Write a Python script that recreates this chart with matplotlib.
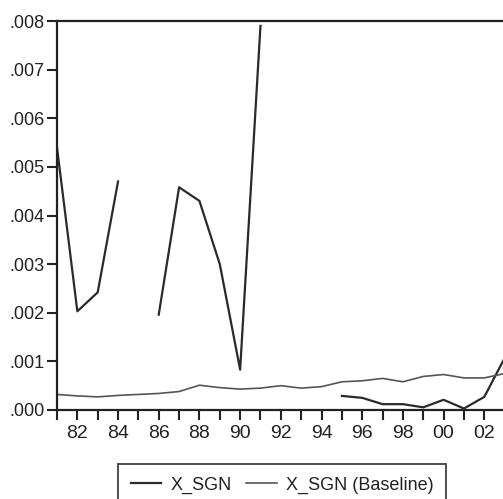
import numpy as np
import matplotlib
matplotlib.use("Agg")
import matplotlib.pyplot as plt
from matplotlib.ticker import FuncFormatter, MultipleLocator

plt.rcParams['font.family'] = ['Liberation Sans', 'DejaVu Sans']

years = np.arange(1981, 2004)
x_sgn = [0.0054, 0.00203, 0.00242, 0.0047, np.nan, 0.00196, 0.00458, 0.0043,
         0.0030, 0.00083, 0.0079, np.nan, np.nan, np.nan, 0.00029, 0.00025,
         0.00012, 0.00012, 0.000055, 0.00021, 0.00003, 0.00027, 0.00107]
x_sgn_base = [0.00032, 0.00029, 0.00027, 0.00030, 0.00032, 0.00034, 0.00038, 0.00051,
              0.00046, 0.00043, 0.00045, 0.00050, 0.00045, 0.00048, 0.00058, 0.00060,
              0.00065, 0.00058, 0.00069, 0.00073, 0.00066, 0.00066, 0.00075]
labels = ["X_SGN", "X_SGN (Baseline)"]

W, H = 503, 499
fig = plt.figure(figsize=(W / 100, H / 100), dpi=100)
left, right_px, top, bottom = 57, 525, 21, 410
ax = fig.add_axes([left / W, 1 - bottom / H, (right_px - left) / W, (bottom - top) / H])

ax.plot(years, x_sgn, color='#2a2a2a', lw=1.6, label=labels[0])
ax.plot(years, x_sgn_base, color='#555555', lw=1.2, label=labels[1])

ax.set_xlim(1981, 2004)
ax.set_ylim(0, 0.008)
ax.set_xticks(np.arange(1982, 2004, 2))
ax.xaxis.set_minor_locator(MultipleLocator(1))
ax.yaxis.set_major_locator(MultipleLocator(0.001))
ax.xaxis.set_major_formatter(FuncFormatter(lambda v, p: f"{int(round(v)) % 100:02d}"))
ax.yaxis.set_major_formatter(FuncFormatter(lambda v, p: f"{v:.3f}"[1:] if v >= 0 else f"{v:.3f}"))

for s in ax.spines.values():
    s.set_linewidth(1.6)
    s.set_color('#222222')

ax.tick_params(axis='both', which='both', direction='out', length=7, width=1.5, colors='#222222')
ax.tick_params(axis='x', which='major', pad=4, labelsize=14, labelcolor='#222222')
ax.tick_params(axis='y', which='major', pad=2, labelsize=13, labelcolor='#222222')

leg = fig.legend(loc='upper left', bbox_to_anchor=(118 / W, 1 - 464 / H), ncol=2,
                 frameon=True, fancybox=False, edgecolor='#222222', fontsize=13,
                 handlelength=1.7, handletextpad=0.5, columnspacing=0.8,
                 borderpad=0.7, borderaxespad=0)
leg.get_frame().set_linewidth(1.4)
for t in leg.get_texts():
    t.set_color('#222222')

fig.savefig("out.png", dpi=100)
